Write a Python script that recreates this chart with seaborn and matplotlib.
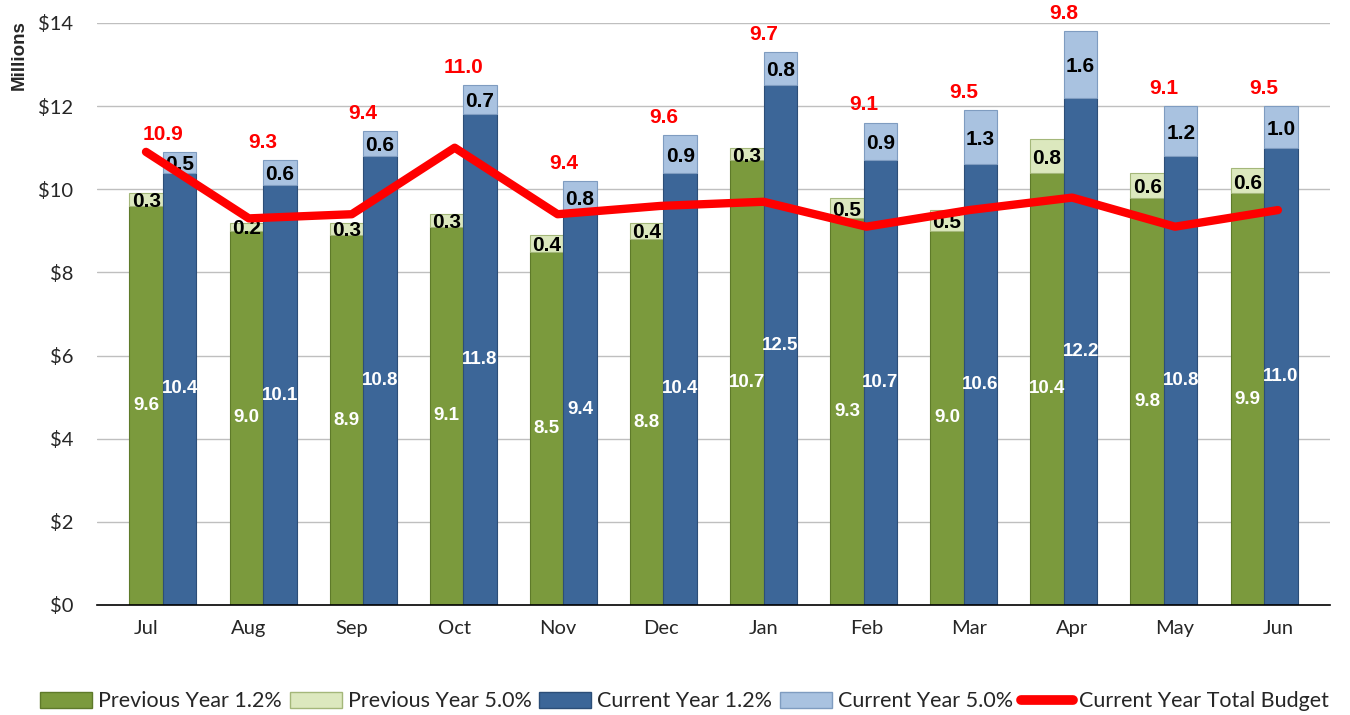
import matplotlib
matplotlib.use("Agg")
import matplotlib.pyplot as plt
from matplotlib.patches import Patch
from matplotlib.lines import Line2D
import seaborn as sns
import numpy as np

months = ["Jul", "Aug", "Sep", "Oct", "Nov", "Dec", "Jan", "Feb", "Mar", "Apr", "May", "Jun"]
prev_base = [9.6, 9.0, 8.9, 9.1, 8.5, 8.8, 10.7, 9.3, 9.0, 10.4, 9.8, 9.9]
prev_top = [0.3, 0.2, 0.3, 0.3, 0.4, 0.4, 0.3, 0.5, 0.5, 0.8, 0.6, 0.6]
curr_base = [10.4, 10.1, 10.8, 11.8, 9.4, 10.4, 12.5, 10.7, 10.6, 12.2, 10.8, 11.0]
curr_top = [0.5, 0.6, 0.6, 0.7, 0.8, 0.9, 0.8, 0.9, 1.3, 1.6, 1.2, 1.0]
budget = [10.9, 9.3, 9.4, 11.0, 9.4, 9.6, 9.7, 9.1, 9.5, 9.8, 9.1, 9.5]
y_ticks = [0, 2, 4, 6, 8, 10, 12, 14]
legend_labels = ["Previous Year 1.2%", "Previous Year 5.0%", "Current Year 1.2%",
                 "Current Year 5.0%", "Current Year Total Budget"]

sns.set_style("white")
plt.rcParams['font.family'] = ['Lato', 'DejaVu Sans']
NARROW = ['Liberation Sans Narrow', 'Liberation Sans', 'DejaVu Sans']

C_GREEN = "#7B9A3D"
C_GREEN_L = "#DCE8BE"
C_BLUE = "#3C6698"
C_BLUE_L = "#A9C2E0"
C_RED = "#FF0000"

fig = plt.figure(figsize=(13.5, 7.15), dpi=100)
ax = fig.add_axes([97/1350, 1-605/715, 1233/1350, 582/715])
ax.set_xlim(-0.659, 11.659)
ax.set_ylim(0, 14)

x = np.arange(len(months))
w = 0.335
xg = x - w/2
xb = x + w/2

for yv in y_ticks[1:]:
    ax.axhline(yv, color="#BFBFBF", lw=1, zorder=0)

ax.bar(xg, prev_base, width=w, color=C_GREEN, edgecolor="#5E7A2A", linewidth=0.8, zorder=2)
ax.bar(xg, prev_top, bottom=prev_base, width=w, color=C_GREEN_L, edgecolor="#A4B77A", linewidth=0.8, zorder=2)
ax.bar(xb, curr_base, width=w, color=C_BLUE, edgecolor="#2C4E78", linewidth=0.8, zorder=2)
ax.bar(xb, curr_top, bottom=curr_base, width=w, color=C_BLUE_L, edgecolor="#7F9CC0", linewidth=0.8, zorder=2)

for i in range(len(months)):
    ax.text(xg[i], prev_base[i]/2, f"{prev_base[i]:.1f}", ha="center", va="center",
            color="white", fontsize=13.5, fontweight="bold", family=NARROW, zorder=5)
    ax.text(xb[i], curr_base[i]/2, f"{curr_base[i]:.1f}", ha="center", va="center",
            color="white", fontsize=13.5, fontweight="bold", family=NARROW, zorder=5)
    ax.annotate(f"{budget[i]:.1f}", (x[i], curr_base[i] + curr_top[i]), xytext=(0, 6),
                textcoords="offset points", ha="center", va="bottom",
                color=C_RED, fontsize=15, fontweight="bold", family=NARROW, zorder=5)

ax.set_yticks(y_ticks)
ax.set_yticklabels([f"${v}" for v in y_ticks], fontsize=14.5)
ax.set_xticks([])
ax.tick_params(axis="y", length=0, pad=17)
for s in ["top", "right", "left"]:
    ax.spines[s].set_visible(False)
ax.spines["bottom"].set_color("black")
ax.spines["bottom"].set_linewidth(1.2)
ax.set_ylabel("Millions", fontsize=13.5, fontweight="bold", family=['Liberation Sans', 'DejaVu Sans'])
ax.yaxis.set_label_coords(-0.056, 0.945)

axl = ax.twiny()
axl.set_xlim(-0.476, 11.506)
sns.lineplot(x=x, y=budget, ax=axl, color=C_RED, linewidth=6, zorder=3)
for ln in axl.get_lines():
    ln.set_solid_capstyle("round")
    ln.set_solid_joinstyle("round")
axl.xaxis.tick_bottom()
axl.set_xticks(x)
axl.set_xticklabels(months, fontsize=14.5)
axl.tick_params(axis="x", length=0, pad=11)
axl.set_xlabel("")
for s in ["top", "right", "left", "bottom"]:
    axl.spines[s].set_visible(False)
axl.set_ylim(0, 14)

for i in range(len(months)):
    ax.text(xg[i], prev_base[i] + prev_top[i]/2 - 0.05, f"{prev_top[i]:.1f}", ha="center", va="center",
            color="black", fontsize=15, fontweight="bold", family=NARROW, zorder=5)
    ax.text(xb[i], curr_base[i] + curr_top[i]/2 - 0.05, f"{curr_top[i]:.1f}", ha="center", va="center",
            color="black", fontsize=15, fontweight="bold", family=NARROW, zorder=5)

handles = [Patch(facecolor=C_GREEN, edgecolor="#5E7A2A"),
           Patch(facecolor=C_GREEN_L, edgecolor="#A4B77A"),
           Patch(facecolor=C_BLUE, edgecolor="#2C4E78"),
           Patch(facecolor=C_BLUE_L, edgecolor="#7F9CC0"),
           Line2D([0], [0], color=C_RED, lw=7, solid_capstyle="round")]
fig.legend(handles, legend_labels, loc="lower center", bbox_to_anchor=(0.507, -0.022), ncol=5,
           frameon=False, fontsize=15.5, handlelength=2.4, handleheight=0.75,
           handletextpad=0.28, columnspacing=0.37)

fig.savefig("out.png", dpi=100)
